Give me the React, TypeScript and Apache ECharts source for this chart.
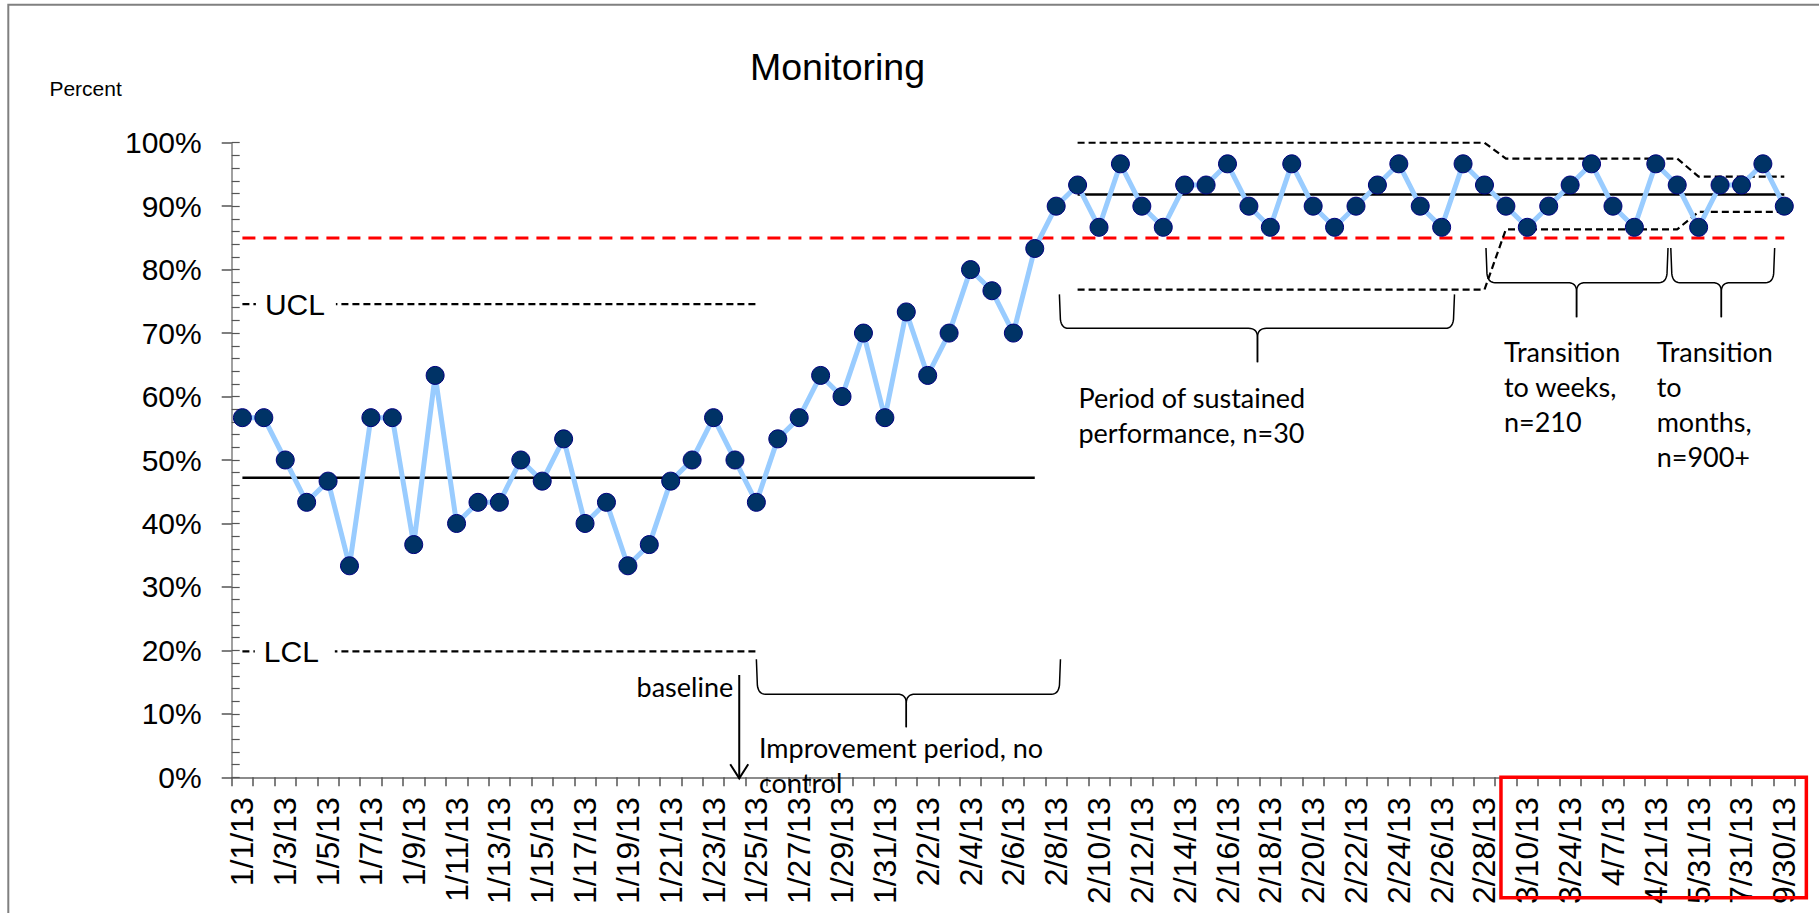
import React, { useEffect, useRef } from "react";
import * as echarts from "echarts";

// ---------- data ----------
const categories = [
  "1/1/13", "1/2/13", "1/3/13", "1/4/13", "1/5/13", "1/6/13", "1/7/13", "1/8/13", "1/9/13", "1/10/13",
  "1/11/13", "1/12/13", "1/13/13", "1/14/13", "1/15/13", "1/16/13", "1/17/13", "1/18/13", "1/19/13", "1/20/13",
  "1/21/13", "1/22/13", "1/23/13", "1/24/13", "1/25/13", "1/26/13", "1/27/13", "1/28/13", "1/29/13", "1/30/13",
  "1/31/13", "2/1/13", "2/2/13", "2/3/13", "2/4/13", "2/5/13", "2/6/13", "2/7/13", "2/8/13", "2/9/13",
  "2/10/13", "2/11/13", "2/12/13", "2/13/13", "2/14/13", "2/15/13", "2/16/13", "2/17/13", "2/18/13", "2/19/13",
  "2/20/13", "2/21/13", "2/22/13", "2/23/13", "2/24/13", "2/25/13", "2/26/13", "2/27/13", "2/28/13", "3/3/13",
  "3/10/13", "3/17/13", "3/24/13", "3/31/13", "4/7/13", "4/14/13", "4/21/13", "4/30/13", "5/31/13", "6/30/13",
  "7/31/13", "8/31/13", "9/30/13",
];

const percentValues = [
  56.67, 56.67, 50, 43.33, 46.67, 33.33, 56.67, 56.67, 36.67, 63.33,
  40, 43.33, 43.33, 50, 46.67, 53.33, 40, 43.33, 33.33, 36.67,
  46.67, 50, 56.67, 50, 43.33, 53.33, 56.67, 63.33, 60, 70,
  56.67, 73.33, 63.33, 70, 80, 76.67, 70, 83.33, 90, 93.33,
  86.67, 96.67, 90, 86.67, 93.33, 93.33, 96.67, 90, 86.67, 96.67,
  90, 86.67, 90, 93.33, 96.67, 90, 86.67, 96.67, 93.33, 90,
  86.67, 90, 93.33, 96.67, 90, 86.67, 96.67, 93.33, 86.67, 93.33,
  93.33, 96.67, 90,
];

const baselineMean = [[0, 47.2], [37, 47.2]];
const baselineUCL = [[0, 74.55], [24, 74.55]];
const baselineLCL = [[0, 19.85], [24, 19.85]];
const goalLine = [[0, 85], [72, 85]];
const sustainedCenter = [[39, 91.85], [72, 91.85]];
const sustainedUpper = [[39, 100], [58, 100], [59, 97.5], [67, 97.5], [68, 94.65], [72, 94.65]];
const sustainedLower = [[39, 76.85], [58, 76.85], [59, 86.35], [67, 86.35], [68, 89.1], [72, 89.1]];

// braces: category index (left, tip, right), value (top of arms, horizontal, tip)
const braces = [
  { xl: 24.0, xm: 31.0, xr: 38.2, yt: 18.6, yh: 13.1, yb: 7.9 },
  { xl: 38.15, xm: 47.4, xr: 56.6, yt: 76.1, yh: 70.75, yb: 65.4 },
  { xl: 58.07, xm: 62.3, xr: 66.57, yt: 83.4, yh: 77.95, yb: 72.5 },
  { xl: 66.7, xm: 69.06, xr: 71.55, yt: 83.4, yh: 77.95, yb: 72.5 },
];

// annotation texts: [text, category index, value, align]
const notes: [string, number, number, string][] = [
  ["baseline", 22.92, 14.34, "right"],
  ["Improvement period, no", 24.12, 4.63, "left"],
  ["control", 24.12, -0.88, "left"],
  ["Period of sustained", 39.04, 59.79, "left"],
  ["performance, n=30", 39.04, 54.27, "left"],
  ["Transition", 58.91, 67.13, "left"],
  ["to weeks,", 58.91, 61.61, "left"],
  ["n=210", 58.91, 56.1, "left"],
  ["Transition", 66.04, 67.13, "left"],
  ["to", 66.04, 61.61, "left"],
  ["months,", 66.04, 56.1, "left"],
  ["n=900+", 66.04, 50.58, "left"],
];

const limitLabels: [string, number, number][] = [
  ["UCL", 1.05, 74.55],
  ["LCL", 1.0, 19.85],
];

const ARIAL = "'Liberation Sans', Arial, sans-serif";
const CALIBRI = "Lato, 'Open Sans', sans-serif";

function quad(p0: number[], c: number[], p1: number[], n = 8) {
  const pts: number[][] = [];
  for (let k = 0; k <= n; k++) {
    const t = k / n;
    const a = (1 - t) * (1 - t), b = 2 * (1 - t) * t, d = t * t;
    pts.push([a * p0[0] + b * c[0] + d * p1[0], a * p0[1] + b * c[1] + d * p1[1]]);
  }
  return pts;
}

export default function App() {
  const ref = useRef<HTMLDivElement>(null);
  useEffect(() => {
    if (!ref.current) return;
    const chart = echarts.init(ref.current, undefined, { renderer: "svg" });
    const dashed = (data: number[][], color = "#000", width = 2.2, dash: number[] = [7, 4]) => ({
      type: "line",
      data,
      symbol: "none",
      silent: true,
      z: 2,
      lineStyle: { color, width, type: dash },
    });
    chart.setOption({
      animation: false,
      backgroundColor: "#fff",
      title: {
        text: "Monitoring",
        left: 837.5,
        top: 48,
        textAlign: "center",
        padding: 0,
        textStyle: { fontSize: 37.5, fontWeight: "normal", color: "#000", fontFamily: ARIAL },
      },
      grid: { left: 231.7, right: 24, top: 142.7, bottom: 135.7, containLabel: false },
      xAxis: {
        type: "category",
        data: categories,
        boundaryGap: true,
        axisLine: { show: true, lineStyle: { color: "#666", width: 1.5 } },
        axisTick: { show: true, interval: 0, length: 9, lineStyle: { color: "#555", width: 1.5 } },
        axisLabel: {
          interval: 1,
          rotate: 90,
          margin: 20,
          fontSize: 32,
          color: "#000",
          fontFamily: ARIAL,
        },
        splitLine: { show: false },
      },
      yAxis: [
        {
          type: "value",
          min: 0,
          max: 100,
          interval: 10,
          axisLine: { show: true, lineStyle: { color: "#808080", width: 1.5 } },
          axisTick: { show: true, inside: false, length: 10, lineStyle: { color: "#555", width: 1.5 } },
          axisLabel: { formatter: "{value}%", fontSize: 30, color: "#000", margin: 30, fontFamily: ARIAL },
          splitLine: { show: false },
        },
        {
          type: "value",
          min: 0,
          max: 100,
          interval: 2,
          position: "left",
          axisLine: { show: false },
          axisTick: { show: true, inside: true, length: 8, lineStyle: { color: "#555", width: 1.2 } },
          axisLabel: { show: false },
          splitLine: { show: false },
        },
      ],
      series: [
        dashed(goalLine, "#FF0000", 3, [13, 8]),
        dashed(baselineUCL),
        dashed(baselineLCL),
        dashed(sustainedUpper),
        dashed(sustainedLower),
        { ...dashed(baselineMean), lineStyle: { color: "#000", width: 2.5, type: "solid" } },
        { ...dashed(sustainedCenter), lineStyle: { color: "#000", width: 2.5, type: "solid" } },
        {
          type: "line",
          data: percentValues,
          symbol: "circle",
          symbolSize: 18,
          showAllSymbol: true,
          z: 5,
          lineStyle: { color: "#99CCFF", width: 5 },
          itemStyle: { color: "#003366", borderColor: "#000080", borderWidth: 1 },
        },
      ],
    });

    const f = { xAxisIndex: 0, yAxisIndex: 0 };
    const a = chart.convertToPixel(f, [0, 0]) as number[];
    const b = chart.convertToPixel(f, [1, 100]) as number[];
    const dx = b[0] - a[0];
    const dy = (b[1] - a[1]) / 100;
    const px = (i: number, v: number) => [a[0] + i * dx, a[1] + v * dy];

    const graphics: any[] = [];
    // frame
    graphics.push({
      type: "rect",
      z: 1,
      shape: { x: 8.3, y: 4.8, width: 3000, height: 3000 },
      style: { fill: "none", stroke: "#808080", lineWidth: 2 },
      silent: true,
    });
    // "Percent"
    graphics.push({
      type: "text",
      z: 100,
      x: 49.4,
      y: 88.5,
      style: {
        text: "Percent", fill: "#000", fontSize: 21, fontFamily: ARIAL,
        textAlign: "left", align: "left", textVerticalAlign: "middle", verticalAlign: "middle",
      },
    });
    // UCL / LCL labels with white gap
    limitLabels.forEach(([t, i, v]) => {
      const p = px(i, v);
      graphics.push({
        type: "rect", z: 99,
        shape: { x: p[0] - 9, y: p[1] - 4, width: 80, height: 8 },
        style: { fill: "#fff", stroke: "none" },
      });
      graphics.push({
        type: "text", z: 100, x: p[0], y: p[1],
        style: {
          text: t, fill: "#000", fontSize: 30, fontFamily: ARIAL,
          textAlign: "left", align: "left", textVerticalAlign: "middle", verticalAlign: "middle",
        },
      });
    });
    // braces
    braces.forEach((br) => {
      const [xl, yt] = px(br.xl, br.yt);
      const yh = px(0, br.yh)[1];
      const yb = px(0, br.yb)[1];
      const xm = px(br.xm, 0)[0];
      const xr = px(br.xr, 0)[0];
      const r = 9;
      const half = (xe: number, s: number) => [
        [xe, yt],
        ...quad([xe + s * 1, yh - r], [xe + s * 2, yh], [xe + s * r, yh]),
        ...quad([xm - s * r, yh], [xm, yh], [xm, yh + r]),
        [xm, yb],
      ];
      [half(xl, 1), half(xr, -1)].forEach((pts) =>
        graphics.push({
          type: "polyline", z: 50, silent: true,
          shape: { points: pts },
          style: { stroke: "#000", fill: null, lineWidth: 1.5 },
        })
      );
    });
    // annotation texts
    notes.forEach(([t, i, v, al]) => {
      const p = px(i, v);
      graphics.push({
        type: "text", z: 100, x: p[0], y: p[1],
        style: {
          text: t, fill: "#000", fontSize: 27, fontFamily: CALIBRI,
          textAlign: al, align: al, textVerticalAlign: "middle", verticalAlign: "middle",
        },
      });
    });
    // baseline arrow
    const aTop = px(23.2, 16.12);
    const aBot = px(23.2, -0.16);
    graphics.push({
      type: "line", z: 60,
      shape: { x1: aTop[0], y1: aTop[1], x2: aBot[0], y2: aBot[1] },
      style: { stroke: "#000", lineWidth: 2 },
    });
    graphics.push({
      type: "polyline", z: 60,
      shape: { points: [[aBot[0] - 9, aBot[1] - 14], [aBot[0], aBot[1]], [aBot[0] + 9, aBot[1] - 14]] },
      style: { stroke: "#000", fill: null, lineWidth: 2 },
    });
    // red highlight box
    const rb1 = px(58.77, 0);
    const rb2 = px(73.03, -19.0);
    graphics.push({
      type: "rect", z: 110,
      shape: { x: rb1[0], y: rb1[1], width: rb2[0] - rb1[0], height: rb2[1] - rb1[1] },
      style: { fill: "none", stroke: "#FF0000", lineWidth: 3.5 },
    });

    chart.setOption({ graphic: { elements: graphics } });

    return () => chart.dispose();
  }, []);

  return (
    <div
      ref={ref}
      style={{ position: "absolute", left: 0, top: 0, width: 1819, height: 913 }}
    />
  );
}
